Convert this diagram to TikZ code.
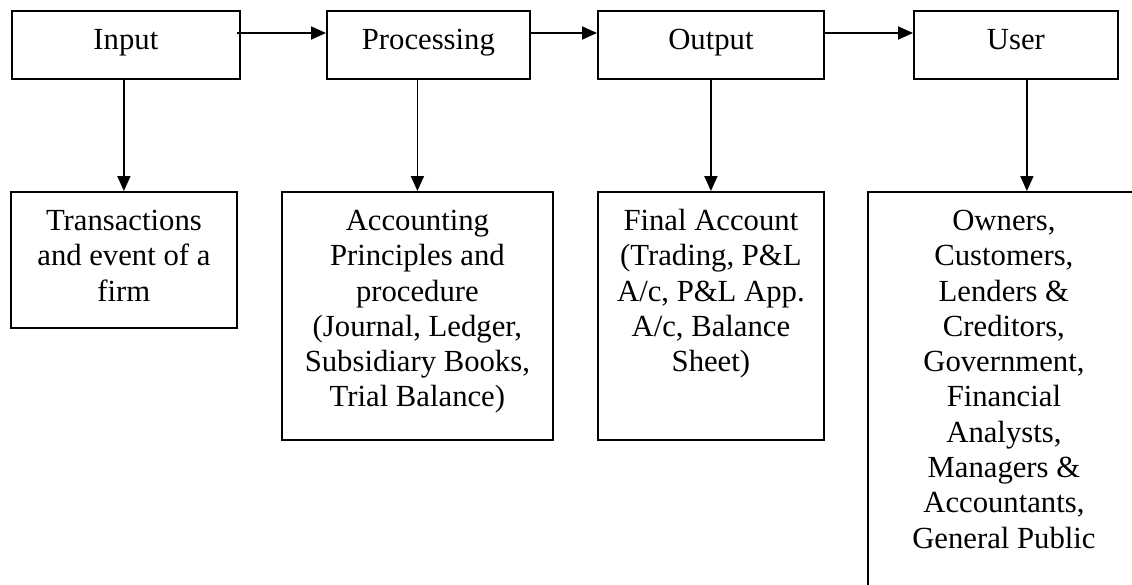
\documentclass[tikz,border=0pt]{standalone}
\usepackage{fontspec}
\setmainfont{Liberation Serif}
\usetikzlibrary{arrows.meta}
\tikzset{
  box/.style n args={3}{draw, line width=1.8pt, anchor=north west, inner xsep=0pt, inner ysep=0pt,
    text width=#1pt, align=flush center, text height=38.5pt, text depth=#2pt,
    font=\fontsize{30.7}{35.3}\selectfont},
  arr/.style={line width=1.8pt, -{Triangle[length=15pt,width=13pt]}}
}
\begin{document}
\begin{tikzpicture}[x=1pt,y=-1pt]
\clip (0,0) rectangle (1132,584);
\fill[white] (0,0) rectangle (1132,584);
% top row
\node[box={228}{29.5}{}] (in)   at (11,10)  {Input};
\node[box={203}{29.5}{}] (proc) at (326,10) {Processing};
\node[box={226}{29.5}{}] (out)  at (597,10) {Output};
\node[box={204}{29.5}{}] (usr)  at (913,10) {User};
% bottom row
\node[box={226}{97.5}{}]  (tr)  at (10,191)  {Transactions\\and event of a\\firm};
\node[box={271}{209.5}{}] (acc) at (281,191) {Accounting\\Principles and\\procedure\\(Journal, Ledger,\\Subsidiary Books,\\Trial Balance)};
\node[box={226}{209.5}{}] (fin) at (597,191) {Final Account\\(Trading, P\&L\\A/c, P\&L App.\\A/c, Balance\\Sheet)};
\node[box={272}{411.5}{}] (own) at (867,191) {Owners,\\Customers,\\Lenders \&\\Creditors,\\Government,\\Financial\\Analysts,\\Managers \&\\Accountants,\\General Public};
% horizontal arrows
\draw[arr] ([xshift=-4pt,yshift=-23pt]in.north east) -- ([yshift=-23pt]proc.north west);
\draw[arr] ([yshift=-23pt]proc.north east) -- ([yshift=-23pt]out.north west);
\draw[arr] ([yshift=-23pt]out.north east) -- ([yshift=-23pt]usr.north west);
% vertical arrows
\draw[arr] (tr.north |- in.south) -- (tr.north);
\draw[arr] (acc.north |- proc.south) -- (acc.north);
\draw[arr] (fin.north |- out.south) -- (fin.north);
\draw[arr] ([xshift=11pt]usr.south) -- ([xshift=11pt]usr.south |- own.north);
\end{tikzpicture}
\end{document}
